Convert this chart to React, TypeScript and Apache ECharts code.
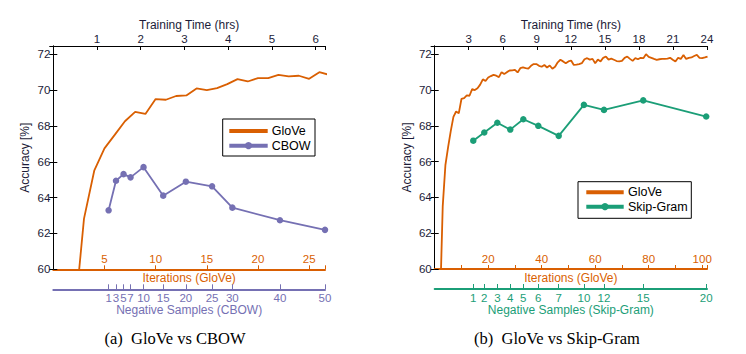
import React, { useEffect, useRef } from "react";
import * as echarts from "echarts";

// ---------- data ----------
// Left panel: GloVe (iterations) and CBOW (negative samples, placed on training time)
const gloveLeftIter = [2, 3, 4, 5, 6, 7, 8, 9, 10, 11, 12, 13, 14, 15, 16, 17, 18, 19, 20, 21, 22, 23, 24, 25, 26, 27];
const gloveLeftAcc = [56.8, 62.83, 65.5, 66.75, 67.5, 68.26, 68.78, 68.67, 69.5, 69.46, 69.67, 69.7, 70.09, 70.0, 70.11, 70.33, 70.61, 70.48, 70.67, 70.67, 70.85, 70.76, 70.8, 70.63, 71.0, 70.84];
const cbowNeg = [1, 3, 5, 7, 10, 15, 20, 25, 30, 40, 50];
const cbowHours = [1.265, 1.434, 1.607, 1.767, 2.064, 2.514, 3.032, 3.632, 4.096, 5.185, 6.215];
const cbowAcc = [63.29, 64.94, 65.31, 65.13, 65.7, 64.11, 64.89, 64.63, 63.44, 62.74, 62.2];

// Right panel: GloVe (iterations) and Skip-Gram
const gloveRightAcc = [
  50, 58, 63.5, 65.8, 66.8, 67.7, 68.5, 68.8, 68.7, 69.5,
  69.55, 69.7, 69.68, 70.05, 70.0, 70.1, 70.3, 70.6, 70.5, 70.7,
  70.78, 70.85, 70.8, 70.72, 71.0, 70.9, 71.0, 71.09, 71.1, 71.13,
  70.98, 71.22, 71.26, 71.22, 71.2, 71.35, 71.45, 71.45, 71.35, 71.3,
  71.4, 71.26, 71.37, 71.19, 71.3, 71.55, 71.69, 71.6, 71.5, 71.6,
  71.65, 71.4, 71.42, 71.45, 71.5, 71.72, 71.78, 71.7, 71.74, 71.5,
  71.7, 71.6, 71.8, 71.87, 71.7, 71.75, 71.69, 71.62, 71.6, 71.63,
  71.8, 71.87, 71.74, 71.63, 71.78, 71.72, 71.8, 71.78, 72.0, 71.85,
  71.8, 71.74, 71.69, 71.72, 71.74, 71.74, 71.76, 71.8, 71.69, 71.59,
  71.8, 71.74, 71.96, 71.74, 71.8, 71.82, 71.9, 71.96, 71.8, 71.78,
  71.82, 71.87,
];
const sgNeg = [1, 2, 3, 4, 5, 6, 7, 10, 12, 15, 20];
const sgHours = [3.4, 4.37, 5.52, 6.66, 7.81, 9.13, 10.93, 13.15, 14.92, 18.38, 23.93];
const sgAcc = [67.17, 67.63, 68.17, 67.79, 68.37, 68.0, 67.44, 69.17, 68.89, 69.42, 68.52];

const yTicks = [60, 62, 64, 66, 68, 70, 72];

// ---------- style ----------
const ORANGE = "#D95F02";
const PURPLE = "#7570B3";
const GREEN = "#1B9E77";
const DARK = "#1c1c38";
const FONT = "Liberation Sans";
const TICK_FS = 11.5;
const NAME_FS = 12;

export default function App() {
  const ref = useRef<HTMLDivElement>(null);

  useEffect(() => {
    document.body.style.margin = "0";
    const chart = echarts.init(ref.current!, null, { renderer: "svg" });

    const grids = [
      { left: 53.3, right: 421, top: 46, bottom: 84.7 },
      { left: 434.7, right: 39, top: 46, bottom: 85 },
    ];

    const yMax = 72.46;
    const mkY = (gi: number, pos: "left" | "right") => ({
      type: "value",
      gridIndex: gi,
      position: pos,
      min: 60,
      max: yMax,
      interval: 2,
      name: pos === "left" ? "Accuracy [%]" : "",
      nameLocation: "middle",
      nameRotate: 90,
      nameGap: 22,
      nameMoveOverlap: false,
      nameTextStyle: { color: DARK, fontFamily: FONT, fontSize: NAME_FS },
      axisLine: { show: true, lineStyle: { color: "#000", width: 1 } },
      axisTick: { show: true, inside: true, length: 4, lineStyle: { color: "#000" } },
      axisLabel: {
        show: pos === "left",
        color: DARK,
        fontFamily: FONT,
        fontSize: TICK_FS,
        margin: 3,
        showMaxLabel: false,
        formatter: (v: number) => (yTicks.includes(v) ? String(v) : ""),
      },
      splitLine: { show: false },
    });

    const topAxis = (gi: number, max: number, interval: number) => ({
      type: "value",
      gridIndex: gi,
      position: "top",
      min: 0,
      max,
      interval,
      name: "Training Time (hrs)",
      nameLocation: "middle",
      nameGap: 15,
      nameMoveOverlap: false,
      nameTextStyle: { color: DARK, fontFamily: FONT, fontSize: NAME_FS, lineHeight: 12 },
      axisLine: { show: true, onZero: false, lineStyle: { color: "#000", width: 1 } },
      axisTick: { show: true, inside: true, length: 4, lineStyle: { color: "#000" } },
      axisLabel: {
        color: DARK,
        fontFamily: FONT,
        fontSize: TICK_FS,
        lineHeight: 12,
        margin: 1,
        showMinLabel: false,
        formatter: (v: number) => (Number.isInteger(v) && v > 0 ? String(v) : ""),
      },
      splitLine: { show: false },
    });

    const iterAxis = (gi: number, max: number, interval: number, labelStep: number) => ({
      type: "value",
      gridIndex: gi,
      position: "bottom",
      min: 0,
      max,
      interval,
      name: "Iterations (GloVe)",
      nameLocation: "middle",
      nameGap: 3,
      nameMoveOverlap: false,
      nameTextStyle: { color: ORANGE, fontFamily: FONT, fontSize: NAME_FS },
      axisLine: { show: true, onZero: false, lineStyle: { color: ORANGE, width: 2 } },
      axisTick: { show: true, inside: true, length: 4, lineStyle: { color: ORANGE } },
      axisLabel: {
        inside: true,
        color: ORANGE,
        fontFamily: FONT,
        fontSize: TICK_FS,
        margin: 4,
        showMinLabel: false,
        formatter: (v: number) => (v > 0 && Math.abs(v % labelStep) < 1e-9 ? String(v) : ""),
      },
      splitLine: { show: false },
    });

    const negAxis = (gi: number, max: number, hours: number[], negs: number[], color: string, name: string) => ({
      type: "value",
      gridIndex: gi,
      position: "bottom",
      offset: 20,
      min: 0,
      max,
      name,
      nameLocation: "middle",
      nameGap: 15,
      nameMoveOverlap: false,
      nameTextStyle: { color, fontFamily: FONT, fontSize: NAME_FS },
      axisLine: { show: true, onZero: false, lineStyle: { color, width: 2 } },
      axisTick: { show: true, inside: true, length: 5, customValues: hours, lineStyle: { color } },
      axisLabel: {
        color,
        fontFamily: FONT,
        fontSize: TICK_FS,
        margin: 3,
        customValues: hours,
        hideOverlap: false,
        formatter: (v: number) => {
          let best = 0;
          for (let i = 0; i < hours.length; i++) {
            if (Math.abs(hours[i] - v) < Math.abs(hours[best] - v)) best = i;
          }
          return String(negs[best]);
        },
      },
      splitLine: { show: false },
    });

    const legendGraphic = (
      x: number, y: number, w: number, h: number,
      lx1: number, lx2: number, tx: number, r1: number, r2: number,
      label2: string, color2: string
    ) => ({
      type: "group",
      children: [
        { type: "rect", shape: { x, y, width: w, height: h }, style: { fill: "#fff", stroke: "#000", lineWidth: 1 } },
        { type: "line", shape: { x1: lx1, y1: r1, x2: lx2, y2: r1 }, style: { stroke: ORANGE, lineWidth: 4 } },
        { type: "text", x: tx, y: r1, style: { text: "GloVe", fill: "#000", font: `12.5px '${FONT}'`, verticalAlign: "middle" } },
        { type: "line", shape: { x1: lx1, y1: r2, x2: lx2, y2: r2 }, style: { stroke: color2, lineWidth: 4 } },
        { type: "circle", shape: { cx: (lx1 + lx2) / 2, cy: r2, r: 3.6 }, style: { fill: color2 } },
        { type: "text", x: tx, y: r2, style: { text: label2, fill: "#000", font: `12.5px '${FONT}'`, verticalAlign: "middle" } },
      ],
    });

    const option: any = {
      animation: false,
      backgroundColor: "#fff",
      grid: grids,
      xAxis: [
        topAxis(0, 6.215, 1),
        iterAxis(0, 26.55, 5, 5),
        negAxis(0, 6.215, cbowHours, cbowNeg, PURPLE, "Negative Samples (CBOW)"),
        topAxis(1, 24, 3),
        iterAxis(1, 101.8, 10, 20),
        negAxis(1, 24, sgHours, sgNeg, GREEN, "Negative Samples (Skip-Gram)"),
      ],
      yAxis: [mkY(0, "left"), mkY(0, "right"), mkY(1, "left"), mkY(1, "right")],
      series: [
        {
          name: "GloVe",
          type: "line",
          xAxisIndex: 1,
          yAxisIndex: 0,
          data: gloveLeftIter.map((it, i) => [it, gloveLeftAcc[i]]),
          showSymbol: false,
          symbol: "none",
          clip: true,
          lineStyle: { color: ORANGE, width: 1.8 },
        },
        {
          name: "CBOW",
          type: "line",
          xAxisIndex: 0,
          yAxisIndex: 0,
          data: cbowHours.map((h, i) => [h, cbowAcc[i]]),
          symbol: "circle",
          symbolSize: 6.5,
          clip: false,
          itemStyle: { color: PURPLE },
          lineStyle: { color: PURPLE, width: 1.8 },
        },
        {
          name: "GloVe",
          type: "line",
          xAxisIndex: 4,
          yAxisIndex: 2,
          data: gloveRightAcc.map((v, i) => [i + 1, v]),
          showSymbol: false,
          symbol: "none",
          clip: true,
          lineStyle: { color: ORANGE, width: 1.8 },
        },
        {
          name: "Skip-Gram",
          type: "line",
          xAxisIndex: 3,
          yAxisIndex: 2,
          data: sgHours.map((h, i) => [h, sgAcc[i]]),
          symbol: "circle",
          symbolSize: 6.5,
          clip: false,
          itemStyle: { color: GREEN },
          lineStyle: { color: GREEN, width: 1.8 },
        },
      ],
      graphic: [
        legendGraphic(222.7, 119, 92.3, 37, 229.3, 267.7, 271.7, 131, 145.7, "CBOW", PURPLE),
        legendGraphic(578, 181.7, 113.3, 36.6, 586.3, 623.7, 628, 192.3, 206.7, "Skip-Gram", GREEN),
        {
          type: "text", x: 175, y: 338,
          style: { text: "(a)\u2002GloVe vs CBOW", fill: "#000", font: "16.5px 'Liberation Serif'", align: "center", verticalAlign: "middle" },
        },
        {
          type: "text", x: 557, y: 338,
          style: { text: "(b)\u2002GloVe vs Skip-Gram", fill: "#000", font: "16.5px 'Liberation Serif'", align: "center", verticalAlign: "middle" },
        },
      ],
    };

    chart.setOption(option);
    return () => chart.dispose();
  }, []);

  return <div ref={ref} style={{ position: "fixed", left: 0, top: 0, width: 746, height: 354 }} />;
}
